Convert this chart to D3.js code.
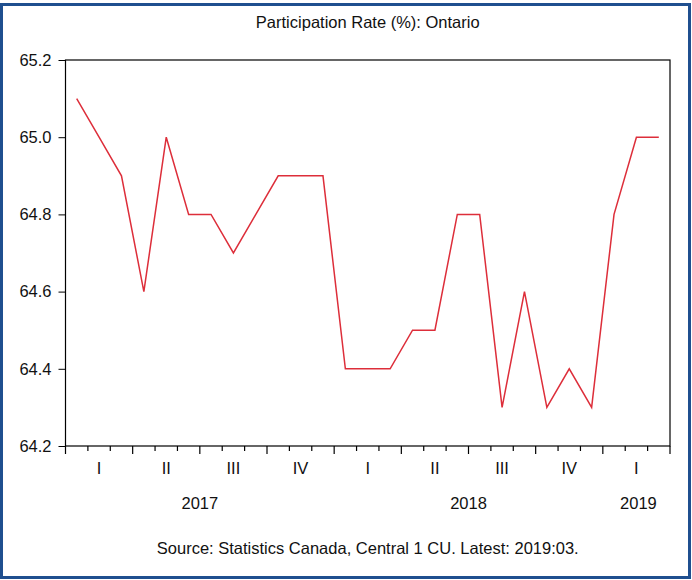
<!DOCTYPE html>
<html>
<head>
<meta charset="utf-8">
<title>Participation Rate (%): Ontario</title>
<script src="https://d3js.org/d3.v7.min.js"></script>
<style>
    body { margin: 0; background: white; }
    svg { display: block; }
    text { font-family: 'Liberation Sans', Arial, sans-serif; fill: #111; }
    .tick-label { font-size: 16.5px; }
    .line { fill: none; stroke: #dd2e3a; stroke-width: 1.5px; }
</style>
</head>
<body>
<svg width="692" height="580"></svg>
<script>
    // Monthly data, Jan 2017 .. Mar 2019
    const months = ["2017-01","2017-02","2017-03","2017-04","2017-05","2017-06","2017-07","2017-08","2017-09",
                    "2017-10","2017-11","2017-12","2018-01","2018-02","2018-03","2018-04","2018-05","2018-06",
                    "2018-07","2018-08","2018-09","2018-10","2018-11","2018-12","2019-01","2019-02","2019-03"];
    const rate = [65.1, 65.0, 64.9, 64.6, 65.0, 64.8, 64.8, 64.7, 64.8,
                  64.9, 64.9, 64.9, 64.4, 64.4, 64.4, 64.5, 64.5, 64.8,
                  64.8, 64.3, 64.6, 64.3, 64.4, 64.3, 64.8, 65.0, 65.0];
    const yTicks = [64.2, 64.4, 64.6, 64.8, 65.0, 65.2];
    const quarterLabels = ["I", "II", "III", "IV"];
    const years = ["2017", "2018", "2019"];

    const svg = d3.select("svg"),
          width = +svg.attr("width"),
          height = +svg.attr("height");

    const margin = { left: 65.5, right: 22, top: 60, bottom: 134 };
    const x0 = margin.left, x1 = width - margin.right;
    const y0 = margin.top, y1 = height - margin.bottom;

    // Outer frame
    svg.append("rect")
        .attr("x", 1.5).attr("y", 4.5)
        .attr("width", width - 4).attr("height", height - 7)
        .attr("fill", "none")
        .attr("stroke", "#1f4f8f")
        .attr("stroke-width", 3);

    // one slot per month, boundaries at month starts
    const monthIndex = d3.scaleLinear().domain([0, months.length]).range([x0, x1]);
    const yScale = d3.scaleLinear().domain([64.2, 65.2]).range([y1, y0]);

    // Plot box
    svg.append("rect")
        .attr("x", x0).attr("y", y0)
        .attr("width", x1 - x0).attr("height", y1 - y0)
        .attr("fill", "none")
        .attr("stroke", "#000")
        .attr("stroke-width", 1.2);

    // Y axis
    const yAxis = svg.append("g")
        .attr("transform", `translate(${x0},0)`)
        .call(d3.axisLeft(yScale).tickValues(yTicks).tickFormat(d3.format(".1f")).tickSize(7).tickPadding(7));
    yAxis.select(".domain").remove();
    yAxis.selectAll("line").attr("stroke", "#000");
    yAxis.selectAll("text").attr("class", "tick-label").attr("fill", "#111")
        .style("font-family", "'Liberation Sans', Arial, sans-serif");

    // X axis: month ticks (short) and quarter ticks (long)
    const boundaries = d3.range(months.length + 1);
    svg.append("g")
        .selectAll("line")
        .data(boundaries)
        .enter().append("line")
        .attr("x1", d => monthIndex(d))
        .attr("x2", d => monthIndex(d))
        .attr("y1", y1)
        .attr("y2", d => d % 3 === 0 ? y1 + 8 : y1 + 5)
        .attr("stroke", "#000")
        .attr("stroke-width", 1.2);

    // Quarter labels
    const quarters = d3.range(months.length / 3);
    svg.append("g")
        .selectAll("text")
        .data(quarters)
        .enter().append("text")
        .attr("class", "tick-label")
        .attr("x", d => monthIndex(d * 3 + 1.5))
        .attr("y", y1 + 28)
        .attr("text-anchor", "middle")
        .text(d => quarterLabels[d % 4]);

    // Year labels
    const yearMonths = years.map(yr => months.filter(m => m.startsWith(yr)).length);
    let start = 0;
    const yearPos = yearMonths.map(n => { const c = start + n / 2; start += n; return c; });
    svg.append("g")
        .selectAll("text")
        .data(years)
        .enter().append("text")
        .attr("class", "tick-label")
        .attr("x", (d, i) => monthIndex(yearPos[i]) + (i === 2 ? 2 : 0))
        .attr("y", y1 + 63)
        .attr("text-anchor", "middle")
        .text(d => d);

    // Line
    const line = d3.line()
        .x((d, i) => monthIndex(i + 0.5))
        .y(d => yScale(d));
    svg.append("path")
        .datum(rate)
        .attr("class", "line")
        .attr("d", line);

    // Title
    svg.append("text")
        .attr("x", (x0 + x1) / 2)
        .attr("y", 28)
        .attr("text-anchor", "middle")
        .style("font-size", "16.5px")
        .text("Participation Rate (%): Ontario");

    // Source
    svg.append("text")
        .attr("x", (x0 + x1) / 2)
        .attr("y", 554)
        .attr("text-anchor", "middle")
        .style("font-size", "16.5px")
        .text("Source: Statistics Canada, Central 1 CU. Latest: 2019:03.");
</script>
</body>
</html>
